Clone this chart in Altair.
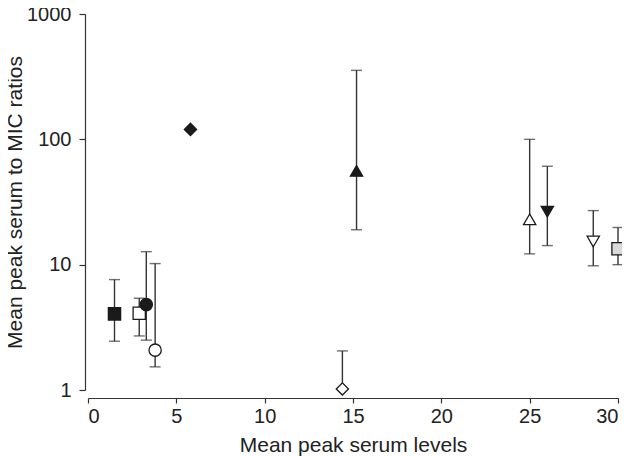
import altair as alt
import pandas as pd

# Data
ids = ["A", "B", "C", "D", "E", "F", "G", "H", "I", "J", "K"]
x_vals = [1.5, 2.9, 3.3, 3.8, 5.8, 14.4, 15.2, 25.0, 26.0, 28.6, 30.0]
y_vals = [4.05, 4.1, 4.8, 2.08, 120, 1.02, 56, 23, 26.5, 15.3, 13.4]
lo_vals = [2.45, 2.7, 2.5, 1.53, None, None, 19, 12.2, 14.2, 9.8, 10.0]
hi_vals = [7.6, 5.4, 12.7, 10.2, None, 2.05, 355, 100, 61, 27, 19.8]

shape_range = ["square", "square", "circle", "circle", "diamond", "diamond",
               "triangle-up", "triangle-up", "triangle-down", "triangle-down", "square"]
fill_range = ["#1a1a1a", "#ffffff", "#1a1a1a", "#ffffff", "#1a1a1a", "#ffffff",
              "#1a1a1a", "#ffffff", "#1a1a1a", "#ffffff", "#d9d9d9"]

x_ticks = [0, 5, 10, 15, 20, 25, 30]
y_ticks = [1, 10, 100, 1000]

df = pd.DataFrame({"id": ids, "x": x_vals, "y": y_vals, "lo": lo_vals, "hi": hi_vals})

font = "Liberation Sans"
xscale = alt.Scale(domain=[0, 30], nice=False, zero=False)
yscale = alt.Scale(type="log", domain=[1, 1000], nice=False)

xaxis = alt.Axis(title="Mean peak serum levels", values=x_ticks, offset=8, titlePadding=8,
                 tickSize=5, labelPadding=3)
yaxis = alt.Axis(title="Mean peak serum to MIC ratios", values=y_ticks, offset=3,
                 titlePadding=1, format="d", tickSize=6, labelPadding=8)

base = alt.Chart(df)

bars = base.transform_filter("isValid(datum.hi)").transform_calculate(
    lo2="isValid(datum.lo) ? datum.lo : datum.y"
).mark_rule(color="#333", strokeWidth=1.4).encode(
    x=alt.X("x:Q", scale=xscale, axis=xaxis),
    y=alt.Y("lo2:Q", scale=yscale, axis=yaxis),
    y2="hi:Q",
)

cap_hi = base.transform_filter("isValid(datum.hi)").mark_tick(
    orient="horizontal", size=11, thickness=1.4, color="#333"
).encode(x=alt.X("x:Q", scale=xscale, axis=xaxis), y=alt.Y("hi:Q", scale=yscale, axis=yaxis))

cap_lo = base.transform_filter("isValid(datum.lo)").mark_tick(
    orient="horizontal", size=11, thickness=1.4, color="#333"
).encode(x=alt.X("x:Q", scale=xscale, axis=xaxis), y=alt.Y("lo:Q", scale=yscale, axis=yaxis))

points = base.mark_point(filled=True, size=150, stroke="#1a1a1a", strokeWidth=1.3, opacity=1).encode(
    x=alt.X("x:Q", scale=xscale, axis=xaxis),
    y=alt.Y("y:Q", scale=yscale, axis=yaxis),
    shape=alt.Shape("id:N", scale=alt.Scale(domain=ids, range=shape_range), legend=None),
    fill=alt.Fill("id:N", scale=alt.Scale(domain=ids, range=fill_range), legend=None),
)

chart = alt.layer(bars, cap_hi, cap_lo, points).properties(
    width=530, height=376,
    autosize=alt.AutoSizeParams(type="none"),
    padding={"left": 80, "top": 6, "right": 4, "bottom": 66},
).configure_view(stroke=None).configure_axis(
    grid=False, labelFontSize=20, titleFontSize=21, titleFontWeight="normal",
    domainColor="#333", tickColor="#333", labelColor="#222",
    titleColor="#222", labelFont=font, titleFont=font, domainWidth=1.2, tickWidth=1.2,
)

chart.save("out.html", embed_options={"renderer": "svg", "actions": False})
